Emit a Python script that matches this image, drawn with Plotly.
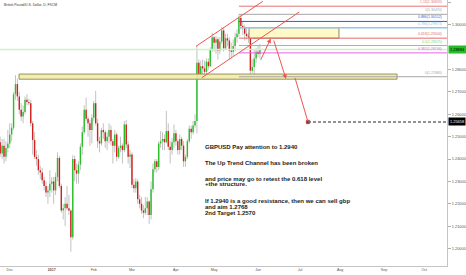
import pandas as pd
import plotly.graph_objects as go

# ---- GBPUSD daily candles (FXCM) ----
dates = pd.bdate_range("2016-11-24", "2017-06-02")

open_ = [1.2475, 1.2425, 1.2460, 1.2410, 1.2450, 1.2470, 1.2510, 1.2540, 1.2690, 1.2735,
         1.2680, 1.2620, 1.2590, 1.2610, 1.2665, 1.2655, 1.2650, 1.2560, 1.2485, 1.2410,
         1.2400, 1.2350, 1.2340, 1.2305, 1.2280, 1.2250, 1.2260, 1.2290, 1.2300, 1.2260,
         1.2320, 1.2405, 1.2280, 1.2170, 1.2180, 1.2200, 1.2180, 1.2170, 1.2050, 1.2400,
         1.2350, 1.2335, 1.2375, 1.2455, 1.2520, 1.2620, 1.2580, 1.2560, 1.2530, 1.2585,
         1.2650, 1.2560, 1.2480, 1.2470, 1.2530, 1.2520, 1.2480, 1.2500, 1.2530, 1.2480,
         1.2460, 1.2510, 1.2410, 1.2450, 1.2460, 1.2440, 1.2555, 1.2465, 1.2410, 1.2420,
         1.2285, 1.2270, 1.2300, 1.2220, 1.2200, 1.2170, 1.2160, 1.2180, 1.2210, 1.2150,
         1.2265, 1.2355, 1.2390, 1.2365, 1.2470, 1.2480, 1.2490, 1.2475, 1.2525, 1.2455,
         1.2440, 1.2475, 1.2515, 1.2480, 1.2440, 1.2490, 1.2460, 1.2390, 1.2410, 1.2480,
         1.2535, 1.2520, 1.2550, 1.2570, 1.2830, 1.2780, 1.2815, 1.2805, 1.2790, 1.2835,
         1.2815, 1.2890, 1.2945, 1.2920, 1.2935, 1.2885, 1.2925, 1.2975, 1.2895, 1.2940,
         1.2930, 1.2885, 1.2880, 1.2905, 1.2945, 1.2960, 1.3030, 1.2995, 1.2990, 1.2960,
         1.2950, 1.2945, 1.2795, 1.2812, 1.2850, 1.2880, 1.2870]
high = [1.2500, 1.2490, 1.2490, 1.2480, 1.2530, 1.2560, 1.2560, 1.2700, 1.2775, 1.2760,
        1.2700, 1.2650, 1.2640, 1.2680, 1.2690, 1.2670, 1.2665, 1.2570, 1.2520, 1.2440,
        1.2420, 1.2370, 1.2360, 1.2320, 1.2300, 1.2280, 1.2350, 1.2320, 1.2320, 1.2340,
        1.2430, 1.2415, 1.2290, 1.2200, 1.2230, 1.2280, 1.2240, 1.2175, 1.2417, 1.2415,
        1.2380, 1.2390, 1.2470, 1.2545, 1.2640, 1.2675, 1.2590, 1.2575, 1.2600, 1.2660,
        1.2705, 1.2580, 1.2500, 1.2540, 1.2560, 1.2530, 1.2520, 1.2560, 1.2550, 1.2490,
        1.2530, 1.2520, 1.2460, 1.2500, 1.2470, 1.2570, 1.2575, 1.2480, 1.2440, 1.2430,
        1.2310, 1.2315, 1.2310, 1.2240, 1.2230, 1.2195, 1.2230, 1.2230, 1.2215, 1.2300,
        1.2380, 1.2400, 1.2400, 1.2480, 1.2525, 1.2520, 1.2510, 1.2615, 1.2560, 1.2480,
        1.2495, 1.2555, 1.2530, 1.2490, 1.2510, 1.2500, 1.2480, 1.2420, 1.2490, 1.2550,
        1.2550, 1.2570, 1.2600, 1.2905, 1.2845, 1.2840, 1.2845, 1.2840, 1.2850, 1.2850,
        1.2900, 1.2965, 1.2950, 1.2950, 1.2945, 1.2945, 1.2990, 1.2990, 1.2960, 1.2960,
        1.2945, 1.2920, 1.2935, 1.2965, 1.2980, 1.3047, 1.3045, 1.3015, 1.3000, 1.2990,
        1.2965, 1.2950, 1.2845, 1.2890, 1.2895, 1.2910, 1.2915]
low = [1.2410, 1.2400, 1.2380, 1.2390, 1.2430, 1.2450, 1.2480, 1.2530, 1.2665, 1.2660,
       1.2600, 1.2570, 1.2560, 1.2600, 1.2640, 1.2640, 1.2545, 1.2420, 1.2400, 1.2370,
       1.2330, 1.2310, 1.2290, 1.2260, 1.2230, 1.2200, 1.2230, 1.2250, 1.2200, 1.2240,
       1.2300, 1.2270, 1.2160, 1.2130, 1.2100, 1.2170, 1.2150, 1.1986, 1.2040, 1.2300,
       1.2290, 1.2290, 1.2350, 1.2420, 1.2510, 1.2570, 1.2500, 1.2460, 1.2470, 1.2570,
       1.2550, 1.2450, 1.2430, 1.2460, 1.2490, 1.2450, 1.2440, 1.2470, 1.2460, 1.2380,
       1.2430, 1.2390, 1.2400, 1.2430, 1.2380, 1.2430, 1.2450, 1.2380, 1.2360, 1.2270,
       1.2250, 1.2250, 1.2200, 1.2180, 1.2155, 1.2135, 1.2150, 1.2150, 1.2110, 1.2130,
       1.2250, 1.2340, 1.2340, 1.2350, 1.2450, 1.2440, 1.2440, 1.2470, 1.2440, 1.2380,
       1.2420, 1.2450, 1.2460, 1.2420, 1.2420, 1.2440, 1.2365, 1.2365, 1.2400, 1.2470,
       1.2490, 1.2510, 1.2540, 1.2515, 1.2760, 1.2765, 1.2775, 1.2760, 1.2780, 1.2800,
       1.2810, 1.2880, 1.2880, 1.2870, 1.2845, 1.2870, 1.2915, 1.2880, 1.2890, 1.2905,
       1.2845, 1.2850, 1.2860, 1.2880, 1.2920, 1.2945, 1.2980, 1.2955, 1.2930, 1.2935,
       1.2920, 1.2780, 1.2785, 1.2768, 1.2830, 1.2855, 1.2850]
close = [1.2425, 1.2460, 1.2410, 1.2450, 1.2470, 1.2510, 1.2540, 1.2690, 1.2735, 1.2680,
         1.2620, 1.2590, 1.2610, 1.2665, 1.2655, 1.2650, 1.2560, 1.2485, 1.2410, 1.2400,
         1.2350, 1.2340, 1.2305, 1.2280, 1.2250, 1.2260, 1.2290, 1.2300, 1.2260, 1.2320,
         1.2405, 1.2280, 1.2170, 1.2180, 1.2200, 1.2180, 1.2170, 1.2050, 1.2400, 1.2350,
         1.2335, 1.2375, 1.2455, 1.2520, 1.2620, 1.2580, 1.2560, 1.2530, 1.2585, 1.2650,
         1.2560, 1.2480, 1.2470, 1.2530, 1.2520, 1.2480, 1.2500, 1.2530, 1.2480, 1.2460,
         1.2510, 1.2410, 1.2450, 1.2460, 1.2440, 1.2555, 1.2465, 1.2410, 1.2420, 1.2285,
         1.2270, 1.2300, 1.2220, 1.2200, 1.2170, 1.2160, 1.2180, 1.2210, 1.2150, 1.2265,
         1.2355, 1.2390, 1.2365, 1.2470, 1.2480, 1.2490, 1.2475, 1.2525, 1.2455, 1.2440,
         1.2475, 1.2515, 1.2480, 1.2440, 1.2490, 1.2460, 1.2390, 1.2410, 1.2480, 1.2535,
         1.2520, 1.2550, 1.2570, 1.2830, 1.2780, 1.2815, 1.2805, 1.2790, 1.2835, 1.2815,
         1.2890, 1.2945, 1.2920, 1.2935, 1.2885, 1.2925, 1.2975, 1.2895, 1.2940, 1.2930,
         1.2885, 1.2880, 1.2905, 1.2945, 1.2960, 1.3030, 1.2995, 1.2990, 1.2960, 1.2950,
         1.2945, 1.2795, 1.2812, 1.2850, 1.2880, 1.2870, 1.28894]

last_price = close[-1]
target_2 = 1.25658

# month ticks (first trading day of each month)
tick_dates = ["2016-12-01", "2017-01-02", "2017-02-01", "2017-03-01", "2017-04-03",
              "2017-05-01", "2017-06-01", "2017-07-03", "2017-08-01", "2017-09-01",
              "2017-10-02"]
tick_text = ["Dec", "<b>2017</b>", "Feb", "Mar", "Apr", "May", "Jun", "Jul", "Aug",
             "Sep", "Oct"]

# price scale labels (1.29000 sits under the last-price tag)
price_ticks = [1.20, 1.21, 1.22, 1.23, 1.24, 1.25, 1.26, 1.27, 1.28, 1.30, 1.31]

# Fibonacci retracement anchors (May 30 low, May 18 high)
fib_low, fib_high = 1.27680, 1.30470
fib_start = "2017-05-18"
fib_ratios = [1.13, 1, 0.886, 0.786, 0.618, 0.5, 0.382, 0]
fib_colors = ["#e57373", "#a6a6a6", "#3f51f0", "#93c6e6", "#e86a6a", "#72d872",
              "#ea62ea", "#a6a6a6"]
fib_widths = [1, 1, 1, 1.6, 1, 1, 1, 1]

x_left, x_right = "2016-11-23 21:36", "2017-10-17 22:48"

note_lines = [
    ("GBPUSD Pay attention to 1.2940", 147.3),
    ("The Up Trend Channel has been broken", 163.3),
    ("and price may go to retest the 0.618 level", 178.6),
    ("+the structure.", 184.4),
    ("If 1.2940 is a good resistance, then we can sell gbp", 200.8),
    ("and aim 1.2768", 207.0),
    ("2nd Target 1.2570", 212.8),
]

UP, DOWN, WICK = "#26c026", "#d31f1f", "#c2c2c2"
RED_DRAW = "#ef5350"
FONT = "Arial, Liberation Sans, sans-serif"
PLOT_W, PLOT_H = 447, 266

# ---- candle geometry ----
wx, wy = [], []
ux, uy, dx, dy = [], [], [], []
for d, o, h, l, c in zip(dates, open_, high, low, close):
    wx += [d, d, None]
    wy += [l, h, None]
    if c >= o:
        ux += [d, d, None]
        uy += [o, c, None]
    else:
        dx += [d, d, None]
        dy += [o, c, None]

fig = go.Figure()
fig.add_trace(go.Scatter(x=wx, y=wy, mode="lines", line=dict(color=WICK, width=1),
                         hoverinfo="skip", showlegend=False))
fig.add_trace(go.Scatter(x=ux, y=uy, mode="lines", line=dict(color=UP, width=1.4),
                         hoverinfo="skip", showlegend=False))
fig.add_trace(go.Scatter(x=dx, y=dy, mode="lines", line=dict(color=DOWN, width=1.4),
                         hoverinfo="skip", showlegend=False))

shapes = []
# support / structure zone
shapes.append(dict(type="rect", xref="x", yref="y", x0="2016-12-07 21:00",
                   x1="2017-09-11 19:00", y0=1.2757, y1=1.2780,
                   fillcolor="rgba(240,236,170,0.9)", line=dict(color="#99925a", width=1)))
# retest zone between 0.618 and 0.786
fib_levels = [fib_low + r * (fib_high - fib_low) for r in fib_ratios]
shapes.append(dict(type="rect", xref="x", yref="y", x0="2017-05-25 07:00",
                   x1="2017-07-31 09:00", y0=fib_levels[4], y1=fib_levels[3],
                   fillcolor="rgba(255,249,196,0.95)", line=dict(color="#8f8a5e", width=1)))
# last price line
shapes.append(dict(type="line", xref="x", yref="y", x0=x_left, x1=x_right,
                   y0=last_price, y1=last_price, line=dict(color="#cdf2c6", width=1.5)))
# fib levels
for lvl, col, w in zip(fib_levels, fib_colors, fib_widths):
    shapes.append(dict(type="line", xref="x", yref="y", x0=fib_start, x1=x_right,
                       y0=lvl, y1=lvl, line=dict(color=col, width=w)))
# up trend channel
shapes.append(dict(type="line", xref="x", yref="y", x0="2017-04-17 13:00", y0=1.29041,
                   x1="2017-06-05 11:00", y1=1.31049, line=dict(color=RED_DRAW, width=1)))
shapes.append(dict(type="line", xref="x", yref="y", x0="2017-04-20 12:30", y0=1.27634,
                   x1="2017-06-30 15:00", y1=1.30572, line=dict(color=RED_DRAW, width=1)))
# second target line
shapes.append(dict(type="line", xref="x", yref="y", x0="2017-07-07 04:00", x1=x_right,
                   y0=target_2, y1=target_2,
                   line=dict(color="#6e6e6e", width=1.5, dash="3px,2px")))
# last leg of the projected path
shapes.append(dict(type="line", xref="x", yref="y", x0="2017-06-28 09:00", y0=1.27626,
                   x1="2017-07-07 04:00", y1=target_2, line=dict(color=RED_DRAW, width=1)))
fig.update_layout(shapes=shapes)

fig.add_trace(go.Scatter(x=[pd.Timestamp("2017-07-07 04:00")], y=[target_2], mode="markers",
                         marker=dict(symbol="square", size=3.5, color="#7a0c0c",
                                     line=dict(color=RED_DRAW, width=0.6)),
                         hoverinfo="skip", showlegend=False))

ann = []
# projected path arrows
for (tx, ty), (hx, hy) in [(("2017-06-02 01:00", 1.28365), ("2017-06-09 15:36", 1.29390)),
                           (("2017-06-13 00:00", 1.29363), ("2017-06-21 15:50", 1.27581))]:
    ann.append(dict(x=hx, y=hy, ax=tx, ay=ty, xref="x", yref="y", axref="x", ayref="y",
                    showarrow=True, arrowhead=2, arrowsize=0.9, arrowwidth=1,
                    arrowcolor=RED_DRAW, text=""))
# fib labels
for r, lvl, col in zip(fib_ratios, fib_levels, fib_colors):
    ann.append(dict(x=444 / PLOT_W, xref="paper", y=lvl, yref="y", xanchor="right",
                    yanchor="bottom", showarrow=False, text=f"{r:g}({lvl:.5f})",
                    font=dict(family=FONT, size=3.5, color=col)))
# price tags on the axis
ann.append(dict(x=1, xref="paper", y=last_price, yref="y", xanchor="left", yanchor="middle",
                showarrow=False, text=f"{last_price:.5f}", bgcolor="#22bf22",
                borderpad=1, xshift=1, font=dict(family=FONT, size=3.9, color="#000")))
ann.append(dict(x=1, xref="paper", y=target_2, yref="y", xanchor="left", yanchor="middle",
                showarrow=False, text=f"{target_2:.5f}", bgcolor="#000000",
                borderpad=1, xshift=1, font=dict(family=FONT, size=3.9, color="#fff")))
# symbol title
ann.append(dict(x=2 / PLOT_W, xref="paper", y=1 - 5 / PLOT_H, yref="paper",
                xanchor="left", yanchor="middle", showarrow=False,
                text="British Pound/U.S. Dollar, D, FXCM",
                font=dict(family=FONT, size=3.4, color="#333")))
# trade note
for txt, py in note_lines:
    ann.append(dict(x=203 / PLOT_W, xref="paper", y=1 - py / PLOT_H, yref="paper",
                    xanchor="left", yanchor="middle", showarrow=False, text=f"<b>{txt}</b>",
                    font=dict(family=FONT, size=6.0, color="#1c1c1c")))
fig.update_layout(annotations=ann)

fig.update_layout(
    width=466, height=275,
    margin=dict(l=0, r=19, t=0, b=9),
    paper_bgcolor="white", plot_bgcolor="white",
    showlegend=False,
    xaxis=dict(type="date", range=[x_left, x_right],
               rangebreaks=[dict(bounds=["sat", "mon"])],
               tickvals=tick_dates, ticktext=tick_text, showgrid=False, zeroline=False,
               showline=True, linecolor="#c4c4c4", linewidth=1, ticks="",
               tickfont=dict(family=FONT, size=3.6, color="#555")),
    yaxis=dict(side="right", range=[1.1922, 1.3111],
               tickvals=price_ticks, ticktext=[f"{v:.5f}" for v in price_ticks],
               showgrid=False, zeroline=False, showline=True, linecolor="#c4c4c4",
               linewidth=1, ticks="outside", ticklen=3, tickcolor="#b0b0b0",
               tickfont=dict(family=FONT, size=3.9, color="#555")),
)

fig.write_html("out.html")
